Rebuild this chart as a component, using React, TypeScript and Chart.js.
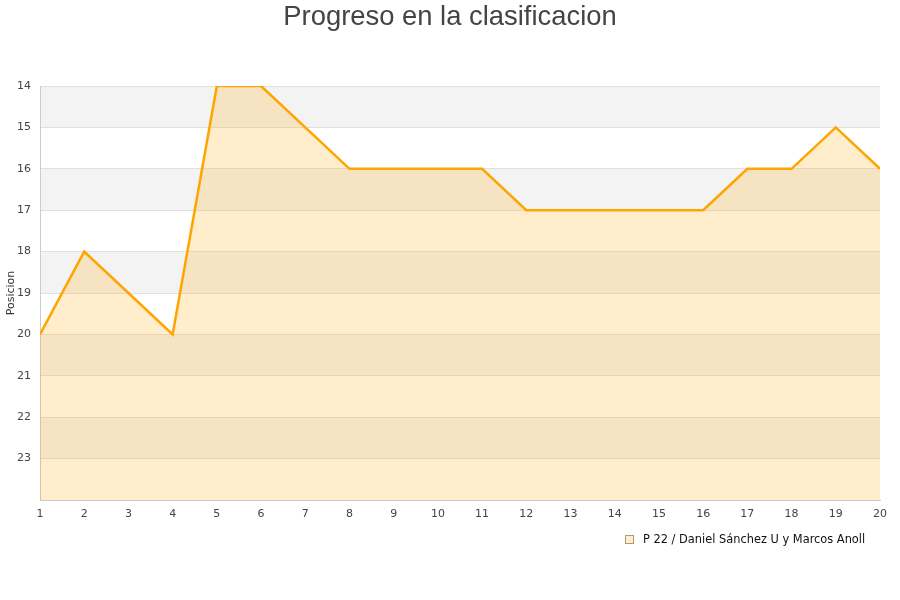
import React, { useEffect, useRef } from "react";
import { Chart, registerables } from "chart.js";

Chart.register(...registerables);

const jornadas = [1, 2, 3, 4, 5, 6, 7, 8, 9, 10, 11, 12, 13, 14, 15, 16, 17, 18, 19, 20];
const posiciones = [20, 18, 19, 20, 14, 14, 15, 16, 16, 16, 16, 17, 17, 17, 17, 17, 16, 16, 15, 16];
const titleText = "Progreso en la clasificacion";
const yTitle = "Posicion";
const seriesLabel = "P 22 / Daniel Sánchez U y Marcos Anoll";
const bandStarts = [14, 16, 18, 20, 22];

const FONT = "'DejaVu Sans', sans-serif";

export default function App() {
  const ref = useRef<HTMLCanvasElement | null>(null);
  useEffect(() => {
    if (!ref.current) return;
    const decor = {
      id: "decor",
      beforeDraw(chart: any) {
        const { ctx, chartArea } = chart;
        const y = chart.scales.y;
        ctx.save();
        ctx.fillStyle = "#f3f3f3";
        for (const b of bandStarts) {
          const p1 = y.getPixelForValue(b);
          const p2 = y.getPixelForValue(b + 1);
          ctx.fillRect(chartArea.left, Math.min(p1, p2), chartArea.right - chartArea.left, Math.abs(p2 - p1));
        }
        ctx.restore();
      },
      afterDraw(chart: any) {
        const { ctx } = chart;
        ctx.save();
        ctx.fillStyle = "#444444";
        ctx.font = "27.4px 'Liberation Sans', Arial, sans-serif";
        ctx.textAlign = "center";
        ctx.textBaseline = "middle";
        ctx.fillText(titleText, 450, 17.5);

        ctx.translate(11, 293);
        ctx.rotate(-Math.PI / 2);
        ctx.font = "11px " + FONT;
        ctx.fillStyle = "#333333";
        ctx.fillText(yTitle, 0, 0);
        ctx.restore();

        ctx.save();
        ctx.fillStyle = "rgba(255,165,0,0.2)";
        ctx.fillRect(625.5, 535.5, 8, 8);
        ctx.strokeStyle = "#a89a80";
        ctx.lineWidth = 1;
        ctx.strokeRect(625.5, 535.5, 8, 8);
        ctx.fillStyle = "#111111";
        ctx.font = "11.4px " + FONT;
        ctx.textAlign = "left";
        ctx.textBaseline = "middle";
        ctx.fillText(seriesLabel, 643, 540);
        ctx.restore();
      },
    };
    const chart = new Chart(ref.current, {
      type: "line",
      data: {
        datasets: [
          {
            label: seriesLabel,
            data: jornadas.map((j, i) => ({ x: j, y: posiciones[i] })),
            borderColor: "#ffa500",
            backgroundColor: "rgba(255,165,0,0.2)",
            borderWidth: 2.5,
            pointRadius: 0,
            tension: 0,
            fill: "start",
          },
        ],
      },
      options: {
        animation: false,
        responsive: false,
        layout: { padding: { left: 0, top: 86, right: 20, bottom: 0 } },
        plugins: { legend: { display: false }, title: { display: false }, tooltip: { enabled: false } },
        scales: {
          x: {
            type: "linear",
            min: 1,
            max: 20,
            ticks: { stepSize: 1, color: "#444444", font: { family: FONT, size: 11 }, padding: 8, maxRotation: 0 },
            grid: { display: false, drawTicks: false },
            border: { color: "#cccccc" },
            afterFit: (s: any) => { s.height = 100; },
          },
          y: {
            min: 14,
            max: 24,
            reverse: true,
            ticks: {
              stepSize: 1,
              color: "#444444",
              font: { family: FONT, size: 11 },
              padding: 9,
              callback: (v: any) => (v === 24 ? "" : String(v)),
            },
            grid: { color: "#e0e0e0", drawTicks: false },
            border: { color: "#cccccc" },
            afterFit: (s: any) => { s.width = 40; },
          },
        },
      },
      plugins: [decor],
    });
    return () => chart.destroy();
  }, []);
  return (
    <div style={{ position: "fixed", left: 0, top: 0, width: 900, height: 600, background: "#fff" }}>
      <canvas ref={ref} width={900} height={600} style={{ width: 900, height: 600 }} />
    </div>
  );
}
